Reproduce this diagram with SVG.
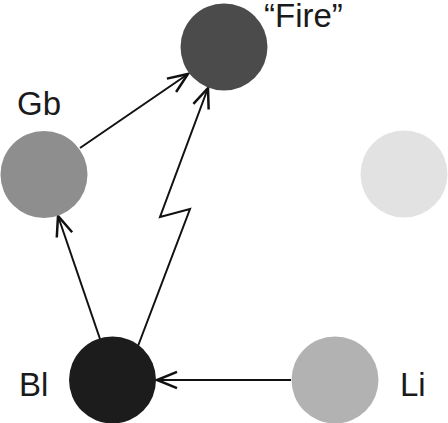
<svg xmlns="http://www.w3.org/2000/svg" width="448" height="423" viewBox="0 0 448 423">
<style>
.lbl{font-family:"Liberation Sans",Arial,sans-serif;font-size:33px;fill:#1a1a1a}
.edge{fill:none;stroke:#111;stroke-width:2;stroke-linejoin:miter}
</style>
<defs>
<marker id="arr" markerUnits="userSpaceOnUse" markerWidth="30" markerHeight="30" viewBox="-20 -10 24 20" refX="0" refY="0" orient="auto">
<path d="M-16,-6.5 L0,0 L-16,6.5" fill="none" stroke="#111" stroke-width="2"/>
</marker>
</defs>
<rect width="448" height="423" fill="#fff"/>
<g id="connectors">
<path class="edge" d="M80,148 L188,74" marker-end="url(#arr)"/>
<path class="edge" d="M138,346 L190,209 L160,217 L208,88" marker-end="url(#arr)"/>
<path class="edge" d="M100,339 L58,216" marker-end="url(#arr)"/>
<path class="edge" d="M291,380 L157,380" marker-end="url(#arr)"/>
</g>
<g id="fire"><circle cx="224" cy="47" r="43.5" fill="#4b4b4b"/><text class="lbl" x="264" y="27">“Fire”</text></g>
<g id="gb"><circle cx="44" cy="174.5" r="43.5" fill="#8e8e8e"/><text class="lbl" x="17" y="115">Gb</text></g>
<g id="light"><circle cx="404" cy="174" r="43.5" fill="#e2e2e2"/></g>
<g id="bl"><circle cx="112.5" cy="380" r="43.5" fill="#1c1c1c"/><text class="lbl" x="19" y="396">Bl</text></g>
<g id="li"><circle cx="335" cy="380" r="43.5" fill="#b2b2b2"/><text class="lbl" x="400" y="396">Li</text></g>
</svg>
